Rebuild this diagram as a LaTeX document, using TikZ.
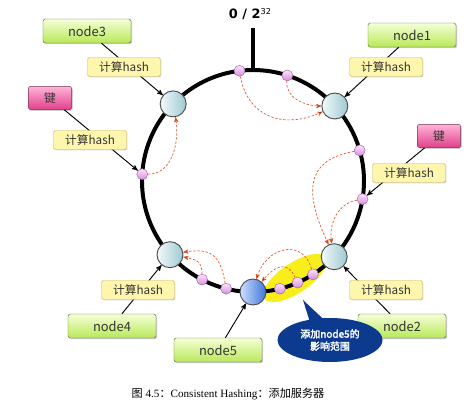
\documentclass[tikz,border=0pt]{standalone}
\usepackage{fontspec}
\usepackage{tikz}
\usetikzlibrary{arrows,shapes.geometric,shapes.callouts,shadows}
\setmainfont{Liberation Serif}
\newfontfamily\cjk{Noto Sans CJK SC}
\newfontfamily\cjkbold[FakeBold=2.5]{Noto Sans CJK SC}
\newfontfamily\dejavu{DejaVu Sans}

\definecolor{greentop}{HTML}{F5FFD6}
\definecolor{greenbot}{HTML}{B9E85A}
\definecolor{greenline}{HTML}{5E6E3C}
\definecolor{pinktop}{HTML}{FFB3D9}
\definecolor{pinkbot}{HTML}{E0408A}
\definecolor{pinkline}{HTML}{7A3350}
\definecolor{hashfill}{HTML}{FFF6AE}
\definecolor{hashline}{HTML}{C9B45E}
\definecolor{servleft}{HTML}{F2FAFA}
\definecolor{servright}{HTML}{9DC9D2}
\definecolor{newleft}{HTML}{CDE0FF}
\definecolor{newright}{HTML}{3F74D8}
\definecolor{dottop}{HTML}{FCE4FC}
\definecolor{dotbot}{HTML}{D58DDD}
\definecolor{dotline}{HTML}{A764AE}
\definecolor{dashred}{HTML}{E5582E}
\definecolor{calloutblue}{HTML}{0B3A8F}
\definecolor{hilite}{HTML}{F7EE1C}

\tikzstyle{ring}    = [draw=black,line width=3.4pt]
\tikzstyle{server}  = [circle,draw=black!70,thick,left color=servleft,right color=servright,minimum size=0.78cm,inner sep=0pt]
\tikzstyle{newserver} = [server,left color=newleft,right color=newright]
\tikzstyle{keydot}  = [circle,draw=dotline,top color=dottop,bottom color=dotbot,minimum size=0.33cm,inner sep=0pt]
\tikzstyle{namebox} = [draw=greenline,rounded corners=2pt,top color=greentop,bottom color=greenbot,minimum width=2.64cm,minimum height=0.72cm,text=black!80,font=\cjk\fontsize{11}{11}\selectfont,drop shadow={shadow xshift=1pt,shadow yshift=-1pt,opacity=0.4}]
\tikzstyle{keybox}  = [draw=pinkline,rounded corners=2pt,top color=pinktop,bottom color=pinkbot,minimum width=1.3cm,minimum height=0.7cm,text=black!80,font=\cjk\fontsize{10}{10}\selectfont,drop shadow={shadow xshift=1pt,shadow yshift=-1pt,opacity=0.4}]
\tikzstyle{hashbox} = [draw=hashline,rounded corners=1.5pt,fill=hashfill,minimum width=2.19cm,minimum height=0.57cm,text=black!80,font=\cjk\fontsize{10}{10}\selectfont,drop shadow={shadow xshift=0.8pt,shadow yshift=-0.8pt,opacity=0.3}]
\tikzstyle{link}    = [draw=black,thick]
\tikzstyle{hit}     = [->,draw=dashred,dashed,dash pattern=on 2pt off 1.5pt,semithick]

\begin{document}
\begin{tikzpicture}[x=0.03cm,y=0.03cm,>=stealth']
\useasboundingbox (0,0) rectangle (471,416);

% area moved to node5
\fill[hilite, rotate around={34:(295,138)}] (295,138) ellipse (37 and 15);

\begin{scope}[shift={(253,235)}]
\draw[ring] (0,0) circle (111);
\draw[ring,line width=2.8pt] (0,110) -- (0,153);

\node[server] (N3) at (136:111) {};
\node[server] (N1) at (42.5:111) {};
\node[server] (N4) at (221.6:111) {};
\node[server] (N2) at (317:111) {};
\node[newserver] (N5) at (270:111) {};

\node[keydot] (D1) at (97:111) {};
\node[keydot] (D2) at (72:111) {};
\node[keydot] (D3) at (176.5:111) {};
\node[keydot] (D4) at (16:111) {};
\node[keydot] (D5) at (350.6:111) {};
\node[keydot] (D6) at (242.7:111) {};
\node[keydot] (D7) at (256:111) {};
\node[keydot] (D8) at (284:111) {};
\node[keydot] (D9) at (293.7:111) {};
\node[keydot] (D10) at (302.7:111) {};
\end{scope}

\node[font=\dejavu\bfseries\fontsize{11}{11}\selectfont] (Z) at (250,402) {0 / 2\raisebox{0.55ex}{\fontsize{7}{7}\selectfont\mdseries 32}};

\node[namebox] (B3) at (87,385) {node3};
\node[namebox] (B1) at (412,381) {node1};
\node[namebox] (B4) at (112,90) {node4};
\node[namebox] (B5) at (218,66) {node5};
\node[namebox] (B2) at (402,90) {node2};
\node[keybox] (K1) at (50,318) {键};
\node[keybox] (K2) at (439,280) {键};

\path[->,link]
	(B3) edge (N3)
	(B1) edge (N1)
	(K1) edge (D3)
	(K2) edge (D5)
	(B4) edge (N4)
	(B5) edge (N5)
	(B2) edge (N2);

\node[hashbox] (H3) at (124,349) {计算hash};
\node[hashbox] (H1) at (386,349) {计算hash};
\node[hashbox] (H6) at (90,276) {计算hash};
\node[hashbox] (H7) at (409,243) {计算hash};
\node[hashbox] (H4) at (138,126) {计算hash};
\node[hashbox] (H2) at (386,126) {计算hash};

% keys go clockwise to next server
\path[hit]
	(D1) edge[out=-80,in=205,looseness=1.2] (N1)
	(D2) edge[out=-95,in=180] (N1)
	(D3) edge[out=0,in=-80] (N3)
	(D4) edge[out=190,in=115,looseness=1.4] (N2)
	(D5) edge[out=190,in=100] (N2)
	(D6) edge[out=90,in=-10,looseness=1.3] (N4)
	(D7) edge[out=100,in=10,looseness=1.4] (N4)
	(D9) edge[out=115,in=50,looseness=1.5] (N5)
	(D10) edge[out=105,in=75,looseness=1.5] (N5);

\node[ellipse callout,fill=calloutblue,text=white,minimum width=3.15cm,minimum height=1.32cm,inner sep=0pt,align=center,
      font=\cjkbold\fontsize{8.5}{10.5}\selectfont,callout absolute pointer={(303,116)}] (C1) at (330,76) {添加node5的\\影响范围};

\node[font=\fontsize{9.5}{9.5}\selectfont] (CAP) at (228,22) {{\cjk 图} 4.5{\cjk ：}Consistent Hashing{\cjk ：添加服务器}};

\end{tikzpicture}
\end{document}
